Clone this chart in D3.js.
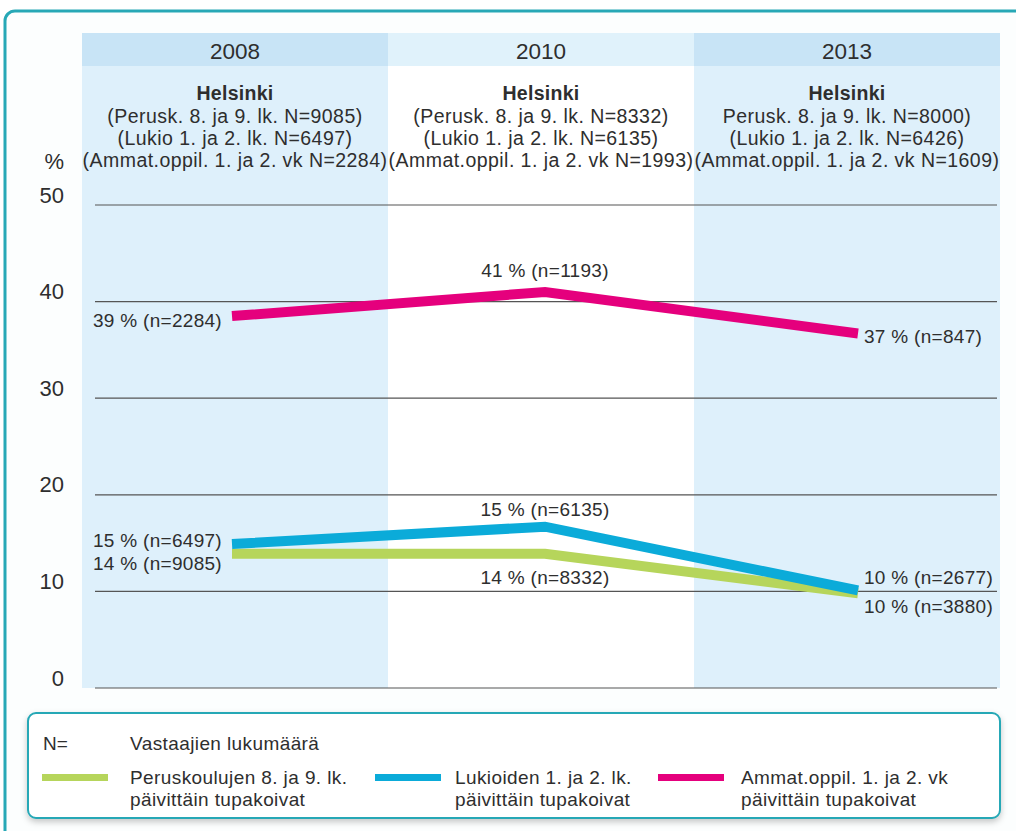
<!doctype html>
<html lang="fi">
<head>
<meta charset="utf-8">
<title>Päivittäin tupakoivat, Helsinki</title>
<script src="https://cdn.jsdelivr.net/npm/d3@7/dist/d3.min.js"></script>
<style>
  body { margin: 0; background: #fff; }
  svg { display: block; }
  text { font-family: "Liberation Sans", Arial, sans-serif; fill: #2e2e2e; }
</style>
</head>
<body>
<div id="viz"></div>
<script>
// DATA
var years = ["2008", "2010", "2013"];
var yTicks = [0, 10, 20, 30, 40, 50];

var peruskoulu = [13.9, 13.9, 9.8];
var lukio = [14.9, 16.7, 10.1];
var ammat = [38.5, 41.0, 36.7];

var peruskouluLabels = ["14 % (n=9085)", "14 % (n=8332)", "10 % (n=3880)"];
var lukioLabels = ["15 % (n=6497)", "15 % (n=6135)", "10 % (n=2677)"];
var ammatLabels = ["39 % (n=2284)", "41 % (n=1193)", "37 % (n=847)"];

var headerLines = [
  ["(Perusk. 8. ja 9. lk. N=9085)", "(Lukio 1. ja 2. lk. N=6497)", "(Ammat.oppil. 1. ja 2. vk N=2284)"],
  ["(Perusk. 8. ja 9. lk. N=8332)", "(Lukio 1. ja 2. lk. N=6135)", "(Ammat.oppil. 1. ja 2. vk N=1993)"],
  ["Perusk. 8. ja 9. lk. N=8000)", "(Lukio 1. ja 2. lk. N=6426)", "(Ammat.oppil. 1. ja 2. vk N=1609)"]
];

var legendNames = [
  ["Peruskoulujen 8. ja 9. lk.", "päivittäin tupakoivat"],
  ["Lukioiden 1. ja 2. lk.", "päivittäin tupakoivat"],
  ["Ammat.oppil. 1. ja 2. vk", "päivittäin tupakoivat"]
];

// Dimensions
var w = 1016, h = 831;

var green = "#b6d55b", blue = "#0babd9", pink = "#e5007d", teal = "#27a8b6";

var series = [
  { values: peruskoulu, labels: peruskouluLabels, color: green, dy: [10, 24, 13] },
  { values: lukio, labels: lukioLabels, color: blue, dy: [-4, -17, -13] },
  { values: ammat, labels: ammatLabels, color: pink, dy: [4, -21, 3] }
];

var band = d3.scaleBand().domain(years).range([82, 1000]).padding(0);
var x = d3.scalePoint().domain(years).range([232, 858]);
var y = d3.scaleLinear().domain([0, 50]).range([688, 205]);

var svg = d3.select("#viz").append("svg")
  .attr("width", w)
  .attr("height", h);

var defs = svg.append("defs");
var shadow = defs.append("filter").attr("id", "shadow")
  .attr("x", "-5%").attr("y", "-20%").attr("width", "110%").attr("height", "150%");
shadow.append("feDropShadow")
  .attr("dx", 0).attr("dy", 3).attr("stdDeviation", 3)
  .attr("flood-color", "#000").attr("flood-opacity", 0.22);

// outer frame
svg.append("rect")
  .attr("x", 5).attr("y", 11)
  .attr("width", 1040).attr("height", 900)
  .attr("rx", 10)
  .attr("fill", "#fcfefe")
  .attr("stroke", teal)
  .attr("stroke-width", 3);

// COLUMN BANDS
var cols = svg.append("g").selectAll("g")
  .data(years)
  .enter().append("g");

cols.append("rect")
  .attr("x", function(d) { return band(d); })
  .attr("y", 33)
  .attr("width", band.bandwidth())
  .attr("height", 688 - 33)
  .attr("fill", function(d, i) { return i === 1 ? "#ffffff" : "#def0fb"; });

cols.append("rect")
  .attr("x", function(d) { return band(d); })
  .attr("y", 33)
  .attr("width", band.bandwidth())
  .attr("height", 33)
  .attr("fill", function(d, i) { return i === 1 ? "#e0f2fb" : "#c8e4f6"; });

cols.append("text")
  .attr("x", function(d) { return band(d) + band.bandwidth() / 2; })
  .attr("y", 51)
  .attr("text-anchor", "middle")
  .attr("dominant-baseline", "central")
  .style("font-size", "22.5px")
  .text(function(d) { return d; });

cols.append("text")
  .attr("x", function(d) { return band(d) + band.bandwidth() / 2; })
  .attr("y", 93)
  .attr("text-anchor", "middle")
  .attr("dominant-baseline", "central")
  .style("font-size", "19.5px")
  .style("font-weight", "bold")
  .style("letter-spacing", "0.3px")
  .text("Helsinki");

cols.each(function(d, i) {
  d3.select(this).selectAll("text.sub")
    .data(headerLines[i])
    .enter().append("text")
    .attr("class", "sub")
    .attr("x", band(d) + band.bandwidth() / 2)
    .attr("y", function(t, j) { return 116 + j * 22; })
    .attr("text-anchor", "middle")
    .attr("dominant-baseline", "central")
    .style("font-size", "19.5px")
    .style("letter-spacing", "0.45px")
    .text(function(t) { return t; });
});

// GRID + Y AXIS
var grid = svg.append("g");
grid.selectAll("line")
  .data(yTicks)
  .enter().append("line")
  .attr("x1", 95).attr("x2", 997)
  .attr("y1", function(d) { return y(d); })
  .attr("y2", function(d) { return y(d); })
  .attr("stroke", "#555")
  .attr("stroke-width", 1.2);

grid.selectAll("text")
  .data(yTicks)
  .enter().append("text")
  .attr("x", 64)
  .attr("y", function(d) { return y(d) - 10; })
  .attr("text-anchor", "end")
  .attr("dominant-baseline", "central")
  .style("font-size", "22px")
  .text(function(d) { return d; });

svg.append("text")
  .attr("x", 64).attr("y", 161)
  .attr("text-anchor", "end")
  .attr("dominant-baseline", "central")
  .style("font-size", "22px")
  .text("%");

// LINES
var line = d3.line()
  .x(function(d, i) { return x(years[i]); })
  .y(function(d) { return y(d); });

var lines = svg.append("g");
series.forEach(function(s) {
  lines.append("path")
    .attr("d", line(s.values))
    .attr("fill", "none")
    .attr("stroke", s.color)
    .attr("stroke-width", 10);
});

// VALUE LABELS
var labelG = svg.append("g");
series.forEach(function(s) {
  s.values.forEach(function(v, i) {
    var anchor = i === 0 ? "end" : (i === 1 ? "middle" : "start");
    var lx = i === 0 ? x(years[i]) - 10 : (i === 1 ? x(years[i]) : x(years[i]) + 6);
    labelG.append("text")
      .attr("x", lx)
      .attr("y", y(v) + s.dy[i])
      .attr("text-anchor", anchor)
      .attr("dominant-baseline", "central")
      .style("font-size", "19px")
      .style("letter-spacing", "0.3px")
      .text(s.labels[i]);
  });
});

// LEGEND
var legend = svg.append("g");
legend.append("rect")
  .attr("x", 28).attr("y", 713)
  .attr("width", 972).attr("height", 105)
  .attr("rx", 8)
  .attr("fill", "#fff")
  .attr("stroke", teal)
  .attr("stroke-width", 2)
  .attr("filter", "url(#shadow)");

legend.append("text")
  .attr("x", 43).attr("y", 743)
  .attr("dominant-baseline", "central")
  .style("font-size", "19px")
  .text("N=");
legend.append("text")
  .attr("x", 130).attr("y", 743)
  .attr("dominant-baseline", "central")
  .style("font-size", "19px")
  .style("letter-spacing", "0.4px")
  .text("Vastaajien lukumäärä");

var legendX = [42, 375, 658];
var items = legend.selectAll("g.item")
  .data(series)
  .enter().append("g")
  .attr("class", "item")
  .attr("transform", function(d, i) { return "translate(" + legendX[i] + ",0)"; });

items.append("rect")
  .attr("x", 0).attr("y", 774)
  .attr("width", 66).attr("height", 7)
  .attr("fill", function(d) { return d.color; });

items.each(function(d, i) {
  d3.select(this).selectAll("text")
    .data(legendNames[i])
    .enter().append("text")
    .attr("x", i === 0 ? 88 : (i === 1 ? 80 : 83))
    .attr("y", function(t, j) { return 777 + j * 22; })
    .attr("dominant-baseline", "central")
    .style("font-size", "19px")
    .style("letter-spacing", "0.4px")
    .text(function(t) { return t; });
});
</script>
</body>
</html>
